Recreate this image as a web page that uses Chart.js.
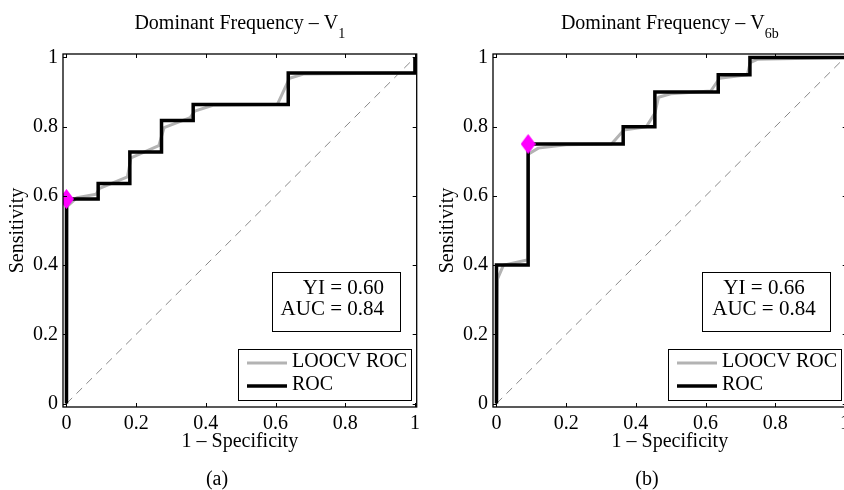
<!DOCTYPE html>
<html lang="en">
<head>
<meta charset="UTF-8">
<title>ROC - Dominant Frequency</title>
<style>
  html, body { margin: 0; padding: 0; background: #fff; }
  body { width: 844px; height: 490px; overflow: hidden; position: relative; }
  canvas { position: absolute; top: 0; }
  #rocA { left: 0; }
  #rocB { left: 430px; }
</style>
</head>
<body>
<canvas id="rocA" width="430" height="490"></canvas>
<canvas id="rocB" width="430" height="490"></canvas>
<script src="https://cdn.jsdelivr.net/npm/chart.js"></script>
<script>
// axis ticks
const fprTicks = [0, 0.2, 0.4, 0.6, 0.8, 1];
const sensTicks = [0, 0.2, 0.4, 0.6, 0.8, 1];

// (a) V1 - ROC operating points (drawn stepped)
const v1RocFpr  = [0, 0, 0.0909, 0.1818, 0.2727, 0.3636, 0.6364, 1];
const v1RocSens = [0, 0.591, 0.636, 0.727, 0.818, 0.864, 0.955, 1];
// (a) V1 - LOOCV ROC
const v1LooFpr  = [0, 0.002, 0.03, 0.085, 0.095, 0.175, 0.185, 0.265, 0.28, 0.355, 0.368, 0.42, 0.605, 0.64, 0.68, 1, 1];
const v1LooSens = [0, 0.57, 0.595, 0.605, 0.622, 0.655, 0.71, 0.745, 0.797, 0.826, 0.845, 0.862, 0.864, 0.94, 0.952, 0.955, 1];
const v1Best = [0, 0.591];
const v1Stats = ['YI = 0.60', 'AUC = 0.84'];

// (b) V6b - ROC operating points (drawn stepped)
const v6bRocFpr  = [0, 0, 0.0909, 0.3636, 0.4545, 0.6364, 0.7273, 1];
const v6bRocSens = [0, 0.4, 0.75, 0.8, 0.9, 0.95, 1, 1];
// (b) V6b - LOOCV ROC
const v6bLooFpr  = [0, 0.003, 0.02, 0.088, 0.09, 0.12, 0.2, 0.33, 0.365, 0.43, 0.455, 0.465, 0.5, 0.615, 0.64, 0.72, 0.728, 0.75, 1];
const v6bLooSens = [0, 0.36, 0.4, 0.415, 0.72, 0.738, 0.748, 0.75, 0.79, 0.8, 0.84, 0.885, 0.895, 0.903, 0.94, 0.95, 0.985, 0.995, 1];
const v6bBest = [0.0909, 0.75];
const v6bStats = ['YI = 0.66', 'AUC = 0.84'];

const chance = [0, 1];
const legendLabels = ['LOOCV ROC', 'ROC'];

const FONT = '"Liberation Serif", "Times New Roman", serif';

function pts(xs, ys) { return xs.map((v, i) => ({x: v, y: ys[i]})); }

function diamond(w, h, color) {
    const c = document.createElement('canvas');
    c.width = w; c.height = h;
    const g = c.getContext('2d');
    g.fillStyle = color;
    g.beginPath();
    g.moveTo(w / 2, 0); g.lineTo(w, h / 2); g.lineTo(w / 2, h); g.lineTo(0, h / 2);
    g.closePath(); g.fill();
    return c;
}
const marker = diamond(15, 20, '#ff00ff');

function decor(p) {
    return {
        id: 'decor',
        afterDraw(chart) {
            const {ctx, chartArea: a, scales: {x, y}} = chart;
            ctx.save();
            // inward ticks on all four sides
            ctx.strokeStyle = '#000';
            ctx.lineWidth = 1;
            ctx.beginPath();
            x.ticks.forEach(t => {
                const px = Math.round(x.getPixelForValue(t.value)) + 0.5;
                ctx.moveTo(px, a.bottom); ctx.lineTo(px, a.bottom - 4);
                ctx.moveTo(px, a.top); ctx.lineTo(px, a.top + 4);
            });
            y.ticks.forEach(t => {
                const py = Math.round(y.getPixelForValue(t.value)) + 0.5;
                ctx.moveTo(a.left, py); ctx.lineTo(a.left + 4, py);
                ctx.moveTo(a.right, py); ctx.lineTo(a.right - 4, py);
            });
            ctx.stroke();
            ctx.lineWidth = 1.3;
            ctx.strokeRect(a.left, a.top, a.right - a.left, a.bottom - a.top);

            // title with subscript
            ctx.fillStyle = '#000';
            ctx.textBaseline = 'alphabetic';
            ctx.textAlign = 'left';
            ctx.font = '20px ' + FONT;
            const wMain = ctx.measureText(p.title).width;
            ctx.font = '14px ' + FONT;
            const wSub = ctx.measureText(p.sub).width;
            let tx = (a.left + a.right) / 2 - (wMain + wSub) / 2;
            ctx.font = '20px ' + FONT;
            ctx.fillText(p.title, tx, 29);
            ctx.font = '14px ' + FONT;
            ctx.fillText(p.sub, tx + wMain, 38);

            // caption
            ctx.font = '20px ' + FONT;
            ctx.textAlign = 'center';
            ctx.fillText(p.caption, 217, 485);

            // stats box
            ctx.fillStyle = '#fff';
            ctx.fillRect(272, 272, 128, 59);
            ctx.lineWidth = 1;
            ctx.strokeRect(272.5, 272.5, 128, 59);
            ctx.fillStyle = '#000';
            ctx.font = '21px ' + FONT;
            ctx.textAlign = p.statsAlign;
            ctx.fillText(p.stats[0], p.statsX, 294);
            ctx.fillText(p.stats[1], p.statsX, 315);

            // legend
            ctx.fillStyle = '#fff';
            ctx.fillRect(238, 349, 173, 51);
            ctx.strokeStyle = '#000';
            ctx.strokeRect(238.5, 349.5, 173, 51);
            ctx.font = '20px ' + FONT;
            ctx.textAlign = 'left';
            legendLabels.forEach((lab, i) => {
                const ds = chart.data.datasets.find(d => d.label === lab);
                const ly = 363 + i * 23;
                ctx.strokeStyle = ds.borderColor;
                ctx.lineWidth = ds.borderWidth;
                ctx.beginPath(); ctx.moveTo(247, ly); ctx.lineTo(287, ly); ctx.stroke();
                ctx.fillStyle = '#000';
                ctx.fillText(lab, 292, ly + 3.5);
            });
            ctx.restore();
        }
    };
}

function makeChart(id, p) {
    const tickFont = {family: FONT, size: 20};
    return new Chart(document.getElementById(id), {
        type: 'scatter',
        data: {
            datasets: [
                { label: 'best', data: [{x: p.best[0], y: p.best[1]}], pointStyle: marker, pointRadius: 8, showLine: false },
                { label: 'ROC', data: pts(p.rocX, p.rocY), showLine: true, stepped: true,
                  borderColor: '#000', borderWidth: 3.5, pointRadius: 0, borderJoinStyle: 'miter', borderCapStyle: 'butt' },
                { label: 'LOOCV ROC', data: pts(p.looX, p.looY), showLine: true,
                  borderColor: '#b3b3b3', borderWidth: 3, pointRadius: 0, borderJoinStyle: 'round' },
                { label: 'chance', data: pts(chance, chance), showLine: true,
                  borderColor: '#888', borderWidth: 1, borderDash: [8, 6], pointRadius: 0 }
            ]
        },
        options: {
            responsive: false,
            animation: false,
            devicePixelRatio: 1,
            layout: { padding: { left: 0, right: 13.3, top: 54, bottom: 36 } },
            plugins: { legend: { display: false }, title: { display: false }, tooltip: { enabled: false } },
            scales: {
                x: {
                    type: 'linear', min: -0.01, max: 1.005,
                    afterBuildTicks: s => { s.ticks = fprTicks.map(v => ({value: v})); },
                    afterFit: s => { s.height = 47; },
                    grid: { display: false, drawTicks: false },
                    border: { display: false },
                    ticks: { padding: 5, color: '#000', font: tickFont, maxRotation: 0, autoSkip: false, callback: v => String(v) },
                    title: { display: true, text: '1 – Specificity', color: '#000', font: tickFont, padding: 0 }
                },
                y: {
                    type: 'linear', min: -0.01, max: 1.01,
                    afterBuildTicks: s => { s.ticks = sensTicks.map(v => ({value: v})); },
                    afterFit: s => { s.width = 63; },
                    grid: { display: false, drawTicks: false },
                    border: { display: false },
                    ticks: { padding: 5, color: '#000', font: tickFont, autoSkip: false, callback: v => String(v) },
                    title: { display: true, text: 'Sensitivity', color: '#000', font: tickFont, padding: { top: 6, bottom: 0 } }
                }
            }
        },
        plugins: [decor(p)]
    });
}

makeChart('rocA', {
    rocX: v1RocFpr, rocY: v1RocSens, looX: v1LooFpr, looY: v1LooSens, best: v1Best,
    title: 'Dominant Frequency – V', sub: '1', caption: '(a)',
    stats: v1Stats, statsAlign: 'right', statsX: 384
});
makeChart('rocB', {
    rocX: v6bRocFpr, rocY: v6bRocSens, looX: v6bLooFpr, looY: v6bLooSens, best: v6bBest,
    title: 'Dominant Frequency – V', sub: '6b', caption: '(b)',
    stats: v6bStats, statsAlign: 'center', statsX: 334
});
</script>
</body>
</html>
